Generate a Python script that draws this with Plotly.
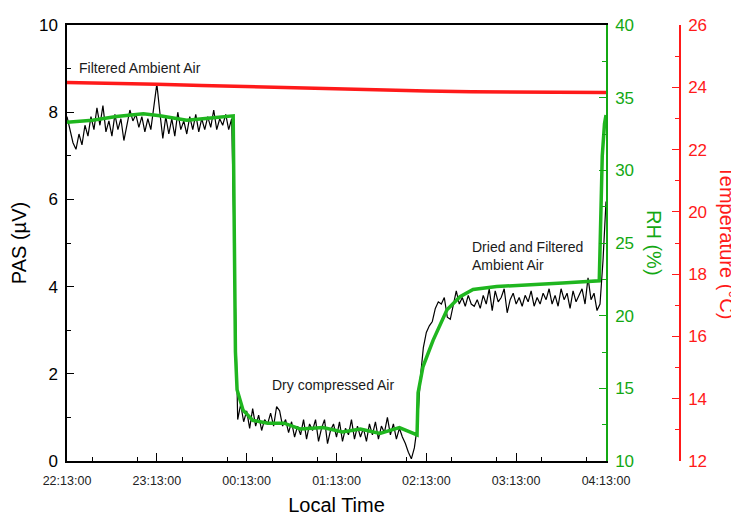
import pandas as pd
import plotly.graph_objects as go

# ---------------- data ----------------
START = "2020-01-01 22:13:00"
PAS_STEP_MIN = 2  # PAS sampled every 2 minutes from 22:13
PAS_UV = [
    7.9, 7.6, 7.3, 7.15, 7.5, 7.25, 7.7, 7.45, 7.9, 7.6,
    8.1, 7.7, 8.15, 7.55, 7.8, 7.45, 7.95, 7.6, 7.85, 7.35,
    7.7, 8.05, 7.8, 7.95, 7.65, 7.9, 7.55, 7.85, 7.6, 8.2,
    8.65, 8.0, 7.4, 7.9, 7.5, 7.85, 7.45, 8.0, 7.6, 7.8,
    7.5, 7.9, 7.6, 7.95, 7.55, 7.85, 7.6, 7.9, 7.65, 8.05,
    7.6, 7.85, 7.7, 7.95, 7.6, 7.85, 4.4, 0.95, 1.3, 0.9,
    1.15, 0.75, 1.2, 0.8, 1.05, 0.7, 0.95, 0.85, 1.1, 0.8,
    1.25, 1.15, 0.8, 0.95, 0.65, 0.9, 0.55, 0.8, 0.6, 0.95,
    0.5, 0.85, 0.7, 0.95, 0.45, 0.75, 0.95, 0.4, 0.7, 0.85,
    0.55, 0.9, 0.45, 0.75, 0.6, 0.95, 0.5, 0.8, 0.55, 0.75,
    0.45, 0.85, 0.6, 0.9, 0.5, 0.8, 0.65, 1.0, 0.6, 0.85,
    0.5, 0.75, 0.55, 0.4, 0.2, 0.05, 0.3, 0.8, 1.9, 2.6,
    2.95, 3.1, 3.2, 3.5, 3.65, 3.6, 3.75, 3.3, 3.25, 3.6,
    3.9, 3.6, 3.75, 3.55, 3.8, 3.6, 3.55, 3.7, 3.5, 3.8,
    3.6, 3.95, 3.45, 3.9, 3.65, 3.75, 3.95, 3.4, 3.7, 3.85,
    3.6, 3.75, 3.55, 3.8, 3.65, 3.9, 3.55, 3.75, 3.6, 3.85,
    3.7, 3.95, 3.6, 3.8, 3.55, 3.95, 3.7, 3.85, 3.5, 3.9,
    3.65, 3.8, 3.95, 3.6, 4.2, 3.7, 3.85, 3.45, 3.6, 4.6,
    5.95,
]

RH_MIN = [0, 17, 33, 51, 62, 80, 96, 111, 111.8, 112.5, 113.6, 117.6, 124, 134,
          145, 156, 171, 184, 196, 209, 222, 233.8, 234.5, 237.8, 244.5, 253.8,
          262.5, 271.2, 287, 309, 331, 355.5, 356.5, 357.5, 359, 360]
RH_PCT = [33.3, 33.45, 33.7, 33.9, 33.75, 33.45, 33.6, 33.75, 25.0, 17.5, 14.9,
          13.5, 12.8, 12.6, 12.6, 12.2, 12.3, 12.0, 12.2, 11.9, 12.3, 11.8, 14.7,
          16.5, 18.3, 20.4, 21.3, 21.8, 22.0, 22.1, 22.25, 22.4, 26.0, 31.0,
          33.2, 33.8]

T_MIN = [0, 30, 60, 90, 120, 150, 180, 210, 240, 270, 300, 330, 360]
T_C = [24.15, 24.13, 24.1, 24.06, 24.02, 23.98, 23.94, 23.91, 23.88, 23.86,
       23.85, 23.84, 23.83]

LABELS = ["Filtered Ambient Air", "Dry compressed Air",
          "Dried and Filtered<br>Ambient Air"]
LABEL_MIN = [6.7, 135.6, 269]
LABEL_PAS = [9.01, 1.74, 4.7]

# ---------------- build ----------------
base = pd.Timestamp(START)
pas_t = [base + pd.Timedelta(minutes=PAS_STEP_MIN * i) for i in range(len(PAS_UV))]
rh_t = [base + pd.Timedelta(minutes=m) for m in RH_MIN]
t_t = [base + pd.Timedelta(minutes=m) for m in T_MIN]
end = base + pd.Timedelta(hours=6)

FONT = "Liberation Sans, Arial, sans-serif"
GREEN_LINE = "#1fb61f"
GREEN_AX = "#13a813"
RED = "#ff1a1a"

fig = go.Figure()
fig.add_trace(go.Scatter(x=pas_t, y=PAS_UV, mode="lines",
                         line=dict(color="black", width=1.2), yaxis="y"))
fig.add_trace(go.Scatter(x=rh_t, y=RH_PCT, mode="lines",
                         line=dict(color=GREEN_LINE, width=3.5), yaxis="y2"))
fig.add_trace(go.Scatter(x=t_t, y=T_C, mode="lines",
                         line=dict(color=RED, width=3.5), yaxis="y3"))

for txt, m, v in zip(LABELS, LABEL_MIN, LABEL_PAS):
    fig.add_annotation(x=base + pd.Timedelta(minutes=m), y=v, xref="x", yref="y",
                       text=txt, showarrow=False, xanchor="left", align="left",
                       font=dict(family=FONT, size=14, color="#1a1a1a"))

# axis titles rotated clockwise on the right
fig.add_annotation(text="RH (%)", textangle=90, xref="paper", yref="paper",
                   x=0.9576, y=0.5, showarrow=False, xanchor="center",
                   font=dict(family=FONT, size=20, color=GREEN_AX))
fig.add_annotation(text="Temperature (°C)", textangle=90, xref="paper", yref="paper",
                   x=1.077, y=0.5, showarrow=False, xanchor="center",
                   font=dict(family=FONT, size=20, color=RED))

dom_right = 539 / 613
fig.update_layout(
    width=731, height=508,
    margin=dict(l=59, r=59, t=17, b=55, autoexpand=False),
    paper_bgcolor="white", plot_bgcolor="white",
    showlegend=False,
    font=dict(family=FONT, color="black"),
    xaxis=dict(
        domain=[0, dom_right], type="date", range=[base, end], automargin=False,
        tick0=base, dtick=3600000, tickformat="%H:%M:%S",
        ticks="inside", ticklen=8, tickwidth=1.2, tickcolor="black",
        minor=dict(ticks="inside", ticklen=4, dtick=1800000, tickcolor="black"),
        showline=True, linecolor="black", linewidth=1.5, mirror=True,
        showgrid=False, zeroline=False,
        tickfont=dict(family=FONT, size=12.5, color="#222"),
        ticklabelstandoff=7,
        title=dict(text="Local Time", font=dict(family=FONT, size=20), standoff=14),
    ),
    yaxis=dict(
        range=[0, 10], dtick=2, ticks="inside", ticklen=7, tickwidth=1.2,
        tickcolor="black", automargin=False,
        minor=dict(ticks="inside", ticklen=4, dtick=1, tickcolor="black"),
        showline=True, linecolor="black", linewidth=1.5,
        showgrid=False, zeroline=False,
        tickfont=dict(family=FONT, size=17), ticklabelstandoff=4,
        title=dict(text="PAS (µV)", font=dict(family=FONT, size=20), standoff=8),
    ),
    yaxis2=dict(
        overlaying="y", side="right", anchor="x", range=[10, 40], dtick=5,
        automargin=False,
        ticks="inside", ticklen=7, tickwidth=1.2, tickcolor=GREEN_AX,
        minor=dict(ticks="inside", ticklen=4, dtick=2.5, tickcolor=GREEN_AX),
        showline=True, linecolor=GREEN_AX, linewidth=1.5,
        showgrid=False, zeroline=False,
        tickfont=dict(family=FONT, size=17, color=GREEN_AX), ticklabelstandoff=4,
    ),
    yaxis3=dict(
        overlaying="y", side="right", anchor="free", position=1.0,
        range=[12, 26], dtick=2, automargin=False,
        ticks="inside", ticklen=7, tickwidth=1.2, tickcolor=RED,
        minor=dict(ticks="inside", ticklen=4, dtick=1, tickcolor=RED),
        showline=True, linecolor=RED, linewidth=1.5,
        showgrid=False, zeroline=False,
        tickfont=dict(family=FONT, size=17, color=RED), ticklabelstandoff=4,
    ),
)

fig.write_html("out.html")
